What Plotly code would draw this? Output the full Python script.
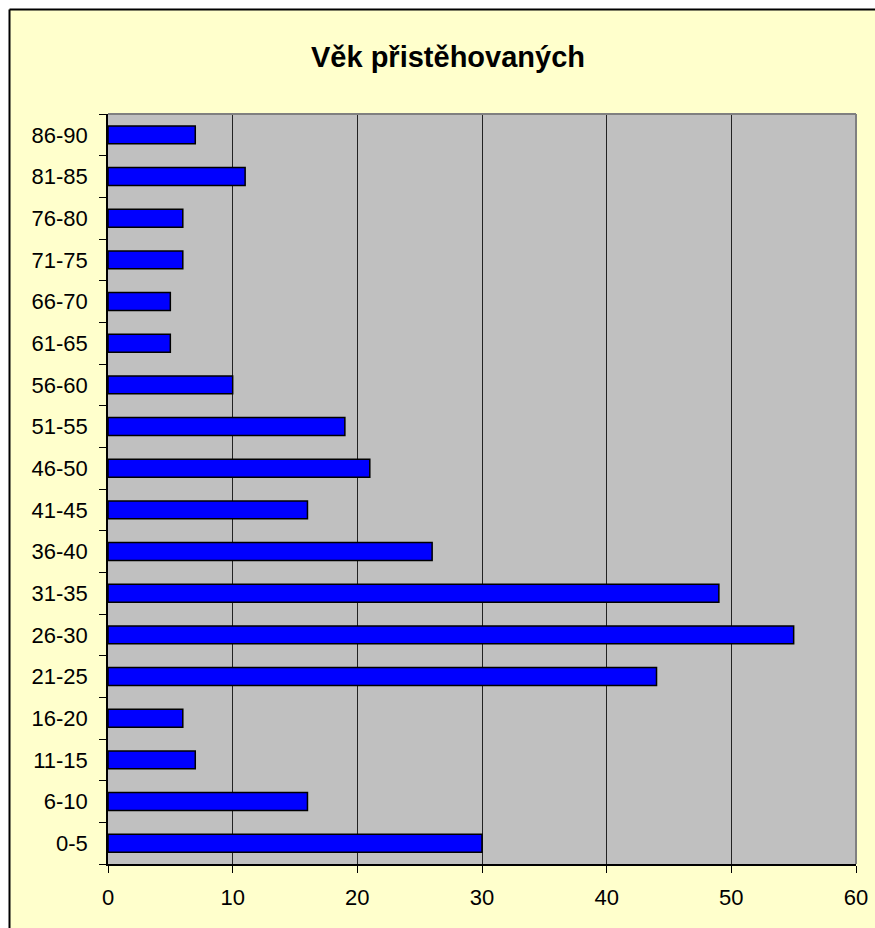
import plotly.graph_objects as go

categories = ["0-5", "6-10", "11-15", "16-20", "21-25", "26-30", "31-35", "36-40",
              "41-45", "46-50", "51-55", "56-60", "61-65", "66-70", "71-75", "76-80",
              "81-85", "86-90"]
values = [30, 16, 7, 6, 44, 55, 49, 26, 16, 21, 19, 10, 5, 5, 6, 6, 11, 7]
x_ticks = [0, 10, 20, 30, 40, 50, 60]

W, H = 875, 928
L, R, T, B = 108, 856, 114, 864
pw, ph = R - L, B - T

def px(x):
    return (x - L) / pw

def py(y):
    return (B - y) / ph

fig = go.Figure(go.Bar(
    x=values, y=categories, orientation="h",
    marker=dict(color="#0000FF", line=dict(color="#000000", width=1.5)),
))

shapes = [
    dict(type="rect", xref="paper", yref="paper", x0=px(0), x1=px(W), y0=py(9), y1=py(0),
         fillcolor="white", line_width=0, layer="below"),
    dict(type="rect", xref="paper", yref="paper", x0=px(0), x1=px(9), y0=py(H), y1=py(0),
         fillcolor="white", line_width=0, layer="below"),
    dict(type="line", xref="paper", yref="paper", x0=px(9.5), x1=px(W), y0=py(9.5), y1=py(9.5),
         line=dict(color="black", width=2)),
    dict(type="line", xref="paper", yref="paper", x0=px(9.5), x1=px(9.5), y0=py(9.5), y1=py(H),
         line=dict(color="black", width=2)),
    dict(type="line", xref="paper", yref="paper", x0=0, x1=1, y0=1, y1=1,
         line=dict(color="#808080", width=2)),
    dict(type="line", xref="paper", yref="paper", x0=1, x1=1, y0=0, y1=1,
         line=dict(color="#808080", width=2)),
]

fig.update_layout(
    width=W, height=H,
    margin=dict(l=L, r=W - R, t=T, b=H - B, pad=0, autoexpand=False),
    paper_bgcolor="#FFFFCC",
    plot_bgcolor="#C0C0C0",
    bargap=0.57,
    showlegend=False,
    shapes=shapes,
    title=dict(text="<b>Věk přistěhovaných</b>", x=448 / W, xanchor="center",
               y=1 - 57 / H, yanchor="middle",
               font=dict(family="Liberation Sans, Arial", size=29, color="black")),
    font=dict(family="Liberation Sans, Arial", size=22, color="black"),
    xaxis=dict(range=[0, 60], tickvals=x_ticks, showgrid=True, gridcolor="#222222", gridwidth=1,
               zeroline=False, showline=True, linecolor="black", linewidth=1.5,
               ticks="outside", ticklen=7, tickcolor="black", tickwidth=1,
               ticklabelstandoff=6, fixedrange=True, automargin=False),
    yaxis=dict(type="category", categoryorder="array", categoryarray=categories,
               showgrid=False, showline=True, linecolor="black", linewidth=1.5,
               ticks="outside", ticklen=7, tickcolor="black", tickwidth=1,
               tickson="boundaries", ticklabelstandoff=14, fixedrange=True, automargin=False),
)

fig.write_html("out.html", config={"displayModeBar": False},
               post_script="document.body.style.margin='0';document.body.style.overflow='hidden';")
